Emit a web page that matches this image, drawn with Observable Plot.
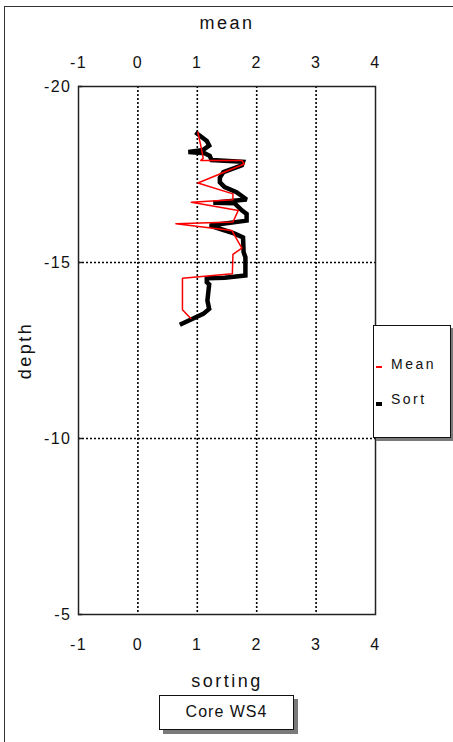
<!DOCTYPE html>
<html>
<head>
<meta charset="utf-8">
<script src="https://cdn.jsdelivr.net/npm/d3@7"></script>
<script src="https://cdn.jsdelivr.net/npm/@observablehq/plot@0.6"></script>
<style>
  html, body { margin: 0; padding: 0; background: #fff; }
  #wrap { position: relative; width: 453px; height: 742px; overflow: hidden; font-family: "Liberation Sans", Arial, sans-serif; }
  #wrap svg { position: absolute; left: 0; top: 0; }
  .outer { position: absolute; left: 4px; top: 6px; width: 460px; height: 760px; border-left: 1.5px solid #333; border-top: 1.5px solid #333; }
  .box { position: absolute; background: #fff; border: 1.5px solid #111; box-sizing: border-box; }
  .shadow { position: absolute; background: #7a7a7a; }
  .legtxt { position: absolute; font-size: 14px; letter-spacing: 2.5px; color: #111; }
</style>
</head>
<body>
<div id="wrap">
  <div class="outer"></div>
</div>
<script>
// Mean series (red): value vs depth
const meanValue = [1.01, 1.07, 1.10, 1.06, 1.75, 1.79, 1.01, 1.60, 1.60, 0.90, 1.69, 1.60, 0.64, 1.58, 1.75, 1.60, 1.59, 0.75, 0.75, 0.89];
const meanDepth = [-18.70, -18.23, -17.96, -17.90, -17.90, -17.80, -17.26, -16.95, -16.78, -16.71, -16.48, -16.15, -16.10, -15.91, -15.41, -15.23, -14.68, -14.55, -13.66, -13.41];

// Sort series (black)
const sortValue = [1.00, 1.16, 1.20, 1.10, 0.85, 1.13, 1.21, 1.24, 1.77, 1.75, 1.44, 1.38, 1.38, 1.46, 1.66, 1.83, 1.27, 1.63, 1.75, 1.83, 1.83, 1.21, 1.43, 1.63, 1.77, 1.78, 1.81, 1.81, 1.46, 1.16, 1.16, 1.20, 1.17, 1.20, 1.10, 0.74];
const sortDepth = [-18.66, -18.45, -18.32, -18.20, -18.14, -18.10, -18.03, -17.91, -17.86, -17.76, -17.57, -17.41, -17.28, -17.14, -17.00, -16.79, -16.70, -16.68, -16.48, -16.38, -16.19, -16.05, -15.93, -15.82, -15.71, -15.29, -15.15, -14.63, -14.57, -14.55, -14.44, -14.38, -13.92, -13.68, -13.54, -13.26];

const xTicks = [-1, 0, 1, 2, 3, 4];
const yTicks = [-20, -15, -10, -5];
const gridX = [0, 1, 2, 3];
const gridY = [-15, -10];
const legendNames = ["Mean", "Sort"];
const captionText = "Core WS4";

const meanData = meanValue.map((v, i) => ({value: v, depth: meanDepth[i]}));
const sortData = sortValue.map((v, i) => ({value: v, depth: sortDepth[i]}));
const fmt = d => String(d); // plain hyphen-minus as in the original

const chart = Plot.plot({
  width: 453,
  height: 742,
  marginLeft: 78,
  marginRight: 78,
  marginTop: 86,
  marginBottom: 128,
  x: {domain: [-1, 4]},
  y: {domain: [-20, -5], reverse: true},
  style: {fontFamily: "'Liberation Sans', Arial, sans-serif", fontSize: "16px", color: "#111", background: "transparent", overflow: "visible"},
  marks: [
    Plot.ruleX(gridX, {x: d => d, stroke: "#000", strokeWidth: 1.6, strokeDasharray: "2,2", strokeOpacity: 1}),
    Plot.ruleY(gridY, {y: d => d, stroke: "#000", strokeWidth: 1.6, strokeDasharray: "2,2", strokeOpacity: 1}),
    Plot.ruleY(yTicks, {y: d => d, x1: -1, x2: -0.93, stroke: "#222", strokeWidth: 1.5}),
    Plot.frame({stroke: "#222", strokeWidth: 1.5}),
    Plot.axisX(xTicks, {anchor: "top", tickSize: 0, tickPadding: 19, tickFormat: fmt, label: "mean", labelAnchor: "center", labelArrow: "none", labelOffset: 70, fontSize: 16}),
    Plot.axisX(xTicks, {anchor: "bottom", tickSize: 0, tickPadding: 24, tickFormat: fmt, label: "sorting", labelAnchor: "center", labelArrow: "none", labelOffset: 72, fontSize: 16}),
    Plot.axisY(yTicks, {anchor: "left", tickSize: 0, tickPadding: 7, tickFormat: fmt, label: "depth", labelAnchor: "center", labelArrow: "none", labelOffset: 60, fontSize: 16}),
    Plot.line(sortData, {x: "value", y: "depth", stroke: "#000", strokeWidth: 4.5, strokeLinejoin: "miter", strokeMiterlimit: 2, strokeLinecap: "square"}),
    Plot.line(meanData, {x: "value", y: "depth", stroke: "#ff0000", strokeWidth: 1.5})
  ]
});

const wrap = document.getElementById("wrap");
wrap.appendChild(chart);

// letter spacing for axis labels
d3.select(chart).selectAll("[aria-label='x-axis label'] text, [aria-label='y-axis label'] text").style("font-size", "18px").style("letter-spacing", "2.5px");
d3.select(chart).selectAll("[aria-label='x-axis tick label'] text, [aria-label='y-axis tick label'] text").style("letter-spacing", "1.5px");

function addBox(left, top, w, h, off) {
  const sh = document.createElement("div");
  sh.className = "shadow";
  Object.assign(sh.style, {left: (left + off) + "px", top: (top + off) + "px", width: w + "px", height: h + "px"});
  wrap.appendChild(sh);
  const b = document.createElement("div");
  b.className = "box";
  Object.assign(b.style, {left: left + "px", top: top + "px", width: w + "px", height: h + "px"});
  wrap.appendChild(b);
  return b;
}

// legend box
addBox(373, 325, 78, 113, 3);
const swatches = [{color: "#ff0000", h: 1.5, top: 366}, {color: "#000", h: 4, top: 402}];
legendNames.forEach((name, i) => {
  const sw = document.createElement("div");
  Object.assign(sw.style, {position: "absolute", left: "376px", top: swatches[i].top + "px", width: "6px", height: swatches[i].h + "px", background: swatches[i].color});
  wrap.appendChild(sw);
  const t = document.createElement("div");
  t.className = "legtxt";
  t.textContent = name;
  Object.assign(t.style, {left: "391px", top: (i === 0 ? 356 : 391) + "px"});
  wrap.appendChild(t);
});

// caption box
const cap = addBox(159, 695, 135, 35, 4);
Object.assign(cap.style, {textAlign: "center", lineHeight: "32px", fontSize: "16px", letterSpacing: "1px", color: "#111"});
cap.textContent = captionText;
</script>
</body>
</html>
